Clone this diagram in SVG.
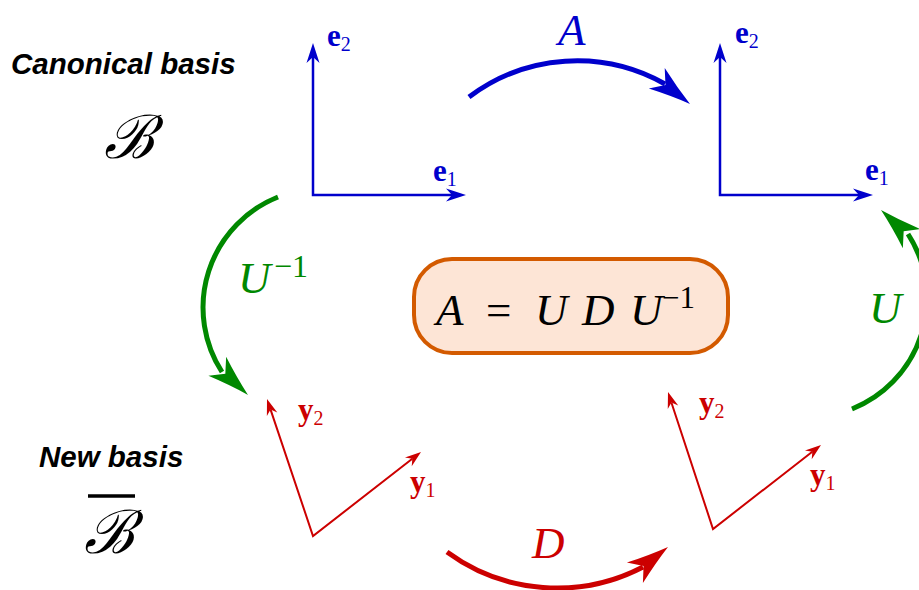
<svg xmlns="http://www.w3.org/2000/svg" xmlns:xlink="http://www.w3.org/1999/xlink" width="919" height="590" viewBox="0 0 919 590">
<style>
.title{font-family:"Liberation Sans",Arial,sans-serif;font-weight:bold;font-style:italic;font-size:29.5px;fill:#000}
.cal{font-family:"DejaVu Serif","Liberation Serif",serif;font-style:italic;font-size:60px;fill:#000}
.math{font-family:"Liberation Serif","Times New Roman",serif;font-style:italic}
.up{font-family:"Liberation Serif","Times New Roman",serif;font-style:normal}
.vec{font-family:"Liberation Serif","Times New Roman",serif;font-weight:bold;font-size:31px}
.sub{font-family:"Liberation Serif","Times New Roman",serif;font-weight:normal;font-size:20px}
.blue{fill:#0000cc}.green{fill:#008800}.red{fill:#cc0000}
.axb{stroke:#0000cc;stroke-width:2.5;fill:none}
.axr{stroke:#cc0000;stroke-width:2;fill:none}
.arc{fill:none;stroke-width:5}
</style>
<defs>
<path id="hs" d="M0,0 L-20,-6.5 L-14,0 L-20,6.5 Z"/>
<path id="hr" d="M0,0 L-16,-5.5 L-11,0 L-16,5.5 Z"/>
<path id="hb" d="M0,0 Q-20,-5 -42,-13 L-31,0 L-42,13 Q-20,5 0,0 Z"/>
</defs>
<g id="labels">
<text class="title" x="11" y="74">Canonical basis</text>
<text class="cal" x="104" y="158">ℬ</text>
<text class="title" x="39" y="467">New basis</text>
<line x1="88" y1="496" x2="135" y2="496" stroke="#000" stroke-width="3.5"/>
<text class="cal" x="84" y="553">ℬ</text>
</g>
<g id="canonical-left">
<path class="axb" d="M313,56 L313,195 L452,195"/>
<use xlink:href="#hs" class="blue" transform="translate(313,43) rotate(-90)"/>
<use xlink:href="#hs" class="blue" transform="translate(466,195)"/>
<text class="vec blue" x="327" y="46">e<tspan class="sub" dy="5">2</tspan></text>
<text class="vec blue" x="433" y="181">e<tspan class="sub" dy="5">1</tspan></text>
</g>
<g id="canonical-right">
<path class="axb" d="M720,56 L720,195 L859,195"/>
<use xlink:href="#hs" class="blue" transform="translate(720,43) rotate(-90)"/>
<use xlink:href="#hs" class="blue" transform="translate(873,195)"/>
<text class="vec blue" x="735" y="43">e<tspan class="sub" dy="5">2</tspan></text>
<text class="vec blue" x="865" y="180">e<tspan class="sub" dy="5">1</tspan></text>
</g>
<g id="new-left">
<path class="axr" d="M270.5,409.4 L313,536 L412.3,458.8"/>
<use xlink:href="#hr" class="red" transform="translate(267,399) rotate(-108.6)"/>
<use xlink:href="#hr" class="red" transform="translate(421,452) rotate(-37.9)"/>
<text class="vec red" x="298" y="420">y<tspan class="sub" dy="5">2</tspan></text>
<text class="vec red" x="410" y="492">y<tspan class="sub" dy="5">1</tspan></text>
</g>
<g id="new-right">
<path class="axr" d="M671.4,402.5 L713,529 L812.3,451.8"/>
<use xlink:href="#hr" class="red" transform="translate(668,392) rotate(-108.2)"/>
<use xlink:href="#hr" class="red" transform="translate(821,445) rotate(-37.9)"/>
<text class="vec red" x="699" y="413">y<tspan class="sub" dy="5">2</tspan></text>
<text class="vec red" x="810" y="485">y<tspan class="sub" dy="5">1</tspan></text>
</g>
<g id="formula">
<rect x="414" y="259" width="314" height="94" rx="38" ry="38" fill="#fde5d6" stroke="#d35a00" stroke-width="4"/>
<text font-size="45" fill="#000" y="325"><tspan class="math" x="436">A</tspan><tspan class="up" x="486">=</tspan><tspan class="math" x="535">U</tspan><tspan class="math" x="582">D</tspan><tspan class="math" x="630">U</tspan></text>
<text font-size="31" fill="#000" y="308" class="up"><tspan x="662">−1</tspan></text>
</g>
<g id="connectors">
<path class="arc" stroke="#0000cc" d="M469,97 A179,179 0 0,1 665,84"/>
<use xlink:href="#hb" class="blue" transform="translate(690,104) rotate(37.7)"/>
<text class="math blue" font-size="45" x="558" y="45">A</text>
<path class="arc" stroke="#008800" d="M278,197 A119,119 0 0,0 222,372"/>
<use xlink:href="#hb" class="green" transform="translate(248,395) rotate(43)"/>
<text class="green" y="293"><tspan class="math" font-size="45" x="238">U</tspan><tspan class="up" font-size="32" x="274" dy="-16">−1</tspan></text>
<path class="arc" stroke="#008800" d="M852,409 A119,119 0 0,0 908,234"/>
<use xlink:href="#hb" class="green" transform="translate(881,210) rotate(223)"/>
<text class="math green" font-size="45" x="869" y="323">U</text>
<path class="arc" stroke="#cc0000" d="M447,552 A186,186 0 0,0 643,567"/>
<use xlink:href="#hb" class="red" transform="translate(668,547) rotate(-38)"/>
<text class="math red" font-size="45" x="532" y="558">D</text>
</g>
</svg>
